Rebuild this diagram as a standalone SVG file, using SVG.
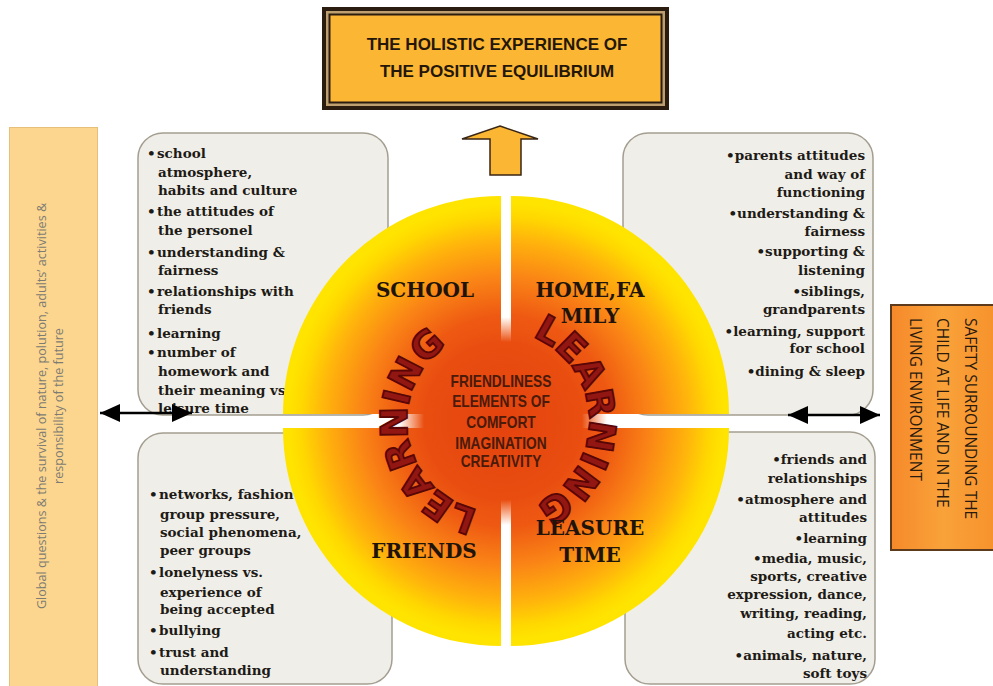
<svg xmlns="http://www.w3.org/2000/svg" width="993" height="686" viewBox="0 0 993 686">
  <style>
    .box { fill: #efeee8; stroke: #a49e90; stroke-width: 1.5; }
    .item { font-family: "DejaVu Serif", "Liberation Serif", serif; font-weight: bold; font-size: 13.5px; fill: #1e1a16; }
    .right { text-anchor: end; }
    .quad-label { font-family: "DejaVu Serif", "Liberation Serif", serif; font-weight: bold; font-size: 20px; fill: #1e140c; text-anchor: middle; }
    .core { font-family: "Liberation Sans", Arial, sans-serif; font-weight: bold; font-size: 16px; fill: #4a1a0a; text-anchor: middle; }
    .ring { font-family: "DejaVu Sans", "Liberation Sans", sans-serif; font-weight: bold; font-size: 37px; fill: #921612; stroke: #5a0606; stroke-width: 1.8px; letter-spacing: 0px; }
    .title { font-family: "Liberation Sans", Arial, sans-serif; font-weight: bold; font-size: 17px; fill: #241608; text-anchor: middle; }
    .side { font-family: "Open Sans", "Noto Sans", sans-serif; font-size: 12.6px; fill: #7c7b74; text-anchor: middle; }
    .safety { font-family: "Open Sans", "Noto Sans", sans-serif; font-size: 15.5px; fill: #2a1a0e; }
    .link { stroke: #000; stroke-width: 2.5; fill: none; }
  </style>
  <defs>
    <radialGradient id="sun" gradientUnits="userSpaceOnUse" cx="506" cy="421" r="218">
      <stop offset="0" stop-color="#e4400e"/>
      <stop offset="0.48" stop-color="#ee5812"/>
      <stop offset="0.66" stop-color="#fa8416"/>
      <stop offset="0.83" stop-color="#ffb30c"/>
      <stop offset="0.94" stop-color="#ffd800"/>
      <stop offset="1" stop-color="#ffe400"/>
    </radialGradient>
    <radialGradient id="glow" gradientUnits="userSpaceOnUse" cx="503" cy="421" r="104">
      <stop offset="0" stop-color="#e4420e"/>
      <stop offset="0.76" stop-color="#e94e10"/>
      <stop offset="1" stop-color="#ef5a14" stop-opacity="0"/>
    </radialGradient>
    <linearGradient id="safetyFill" x1="0" y1="0" x2="1" y2="0">
      <stop offset="0" stop-color="#f6892a"/>
      <stop offset="0.5" stop-color="#f9a23a"/>
      <stop offset="1" stop-color="#f7922c"/>
    </linearGradient>
    <marker id="head" viewBox="0 0 20 18" refX="20" refY="9" markerWidth="20" markerHeight="18" markerUnits="userSpaceOnUse" orient="auto-start-reverse">
      <path d="M0,0 L20,9 L0,18 z" fill="#000"/>
    </marker>
    <!-- ring paths for the curved LEARNING words -->
    <path id="arcLeft" d="M498,512 A91,91 0 0 1 498,330"/>
    <path id="arcRight" d="M498,330 A91,91 0 0 1 498,512"/>
  </defs>

  <rect width="993" height="686" fill="#ffffff"/>

  <!-- outer context: global questions -->
  <g id="global">
    <rect x="9.5" y="127.5" width="88" height="560" fill="#fcd68e" stroke="#e6bf78" stroke-width="1"/>
    <text class="side" transform="translate(46,406) rotate(-90)">Global questions &amp; the survival of nature, polution, adults’ activities &amp;</text>
    <text class="side" transform="translate(63,406) rotate(-90)">responsibility of the future</text>
  </g>

  <!-- outer context: safety -->
  <g id="safety">
    <rect x="891" y="305" width="104" height="245" fill="url(#safetyFill)" stroke="#5e3a1c" stroke-width="2"/>
    <text class="safety" transform="translate(965,318) rotate(90)">SAFETY  SURROUNDING THE</text>
    <text class="safety" transform="translate(937,318) rotate(90)">CHILD AT LIFE AND IN THE</text>
    <text class="safety" transform="translate(910,318) rotate(90)">LIVING ENVIRONMENT</text>
  </g>

  <!-- detail panels -->
  <g id="school-details">
    <rect class="box" x="138" y="133" width="250" height="282" rx="25"/>
    <g class="item">
      <text x="147" y="158">•</text><text x="157" y="158">school</text>
      <text x="158" y="177">atmosphere,</text>
      <text x="158" y="195">habits and culture</text>
      <text x="147" y="216">•</text><text x="157" y="216">the attitudes of</text>
      <text x="158" y="235">the personel</text>
      <text x="147" y="257">•</text><text x="157" y="257">understanding &amp;</text>
      <text x="158" y="275">fairness</text>
      <text x="147" y="296">•</text><text x="157" y="296">relationships with</text>
      <text x="158" y="314">friends</text>
      <text x="147" y="338">•</text><text x="157" y="338">learning</text>
      <text x="147" y="357">•</text><text x="157" y="357">number of</text>
      <text x="158" y="376">homework and</text>
      <text x="158" y="395">their meaning vs</text>
      <text x="158" y="413">leisure time</text>
    </g>
  </g>

  <g id="friends-details">
    <rect class="box" x="138" y="433" width="254" height="251" rx="25"/>
    <g class="item">
      <text x="149" y="499">•</text><text x="159" y="499">networks, fashion</text>
      <text x="160" y="519">group pressure,</text>
      <text x="160" y="537">social phenomena,</text>
      <text x="160" y="555">peer groups</text>
      <text x="149" y="577">•</text><text x="159" y="577">lonelyness vs.</text>
      <text x="160" y="597">experience of</text>
      <text x="160" y="614">being accepted</text>
      <text x="149" y="635">•</text><text x="159" y="635">bullying</text>
      <text x="149" y="657">•</text><text x="159" y="657">trust and</text>
      <text x="160" y="675">understanding</text>
    </g>
  </g>

  <g id="home-details">
    <rect class="box" x="623" y="133" width="250" height="282" rx="25"/>
    <g class="item right">
      <text x="865" y="160">•parents attitudes</text>
      <text x="865" y="179">and way of</text>
      <text x="865" y="197">functioning</text>
      <text x="865" y="218">•understanding &amp;</text>
      <text x="865" y="236">fairness</text>
      <text x="865" y="256">•supporting &amp;</text>
      <text x="865" y="275">listening</text>
      <text x="865" y="296">•siblings,</text>
      <text x="865" y="314">grandparents</text>
      <text x="865" y="336">•learning, support</text>
      <text x="865" y="353">for school</text>
      <text x="865" y="376">•dining &amp; sleep</text>
    </g>
  </g>

  <g id="leisure-details">
    <rect class="box" x="625" y="432" width="250" height="252" rx="25"/>
    <g class="item right">
      <text x="867" y="464">•friends and</text>
      <text x="867" y="483">relationships</text>
      <text x="867" y="504">•atmosphere and</text>
      <text x="867" y="522">attitudes</text>
      <text x="867" y="543">•learning</text>
      <text x="867" y="563">•media, music,</text>
      <text x="867" y="581">sports, creative</text>
      <text x="867" y="599">expression, dance,</text>
      <text x="867" y="618">writing, reading,</text>
      <text x="867" y="638">acting etc.</text>
      <text x="867" y="660">•animals, nature,</text>
      <text x="867" y="678">soft toys</text>
    </g>
  </g>

  <!-- the four quarters of the central disc -->
  <g id="disc">
    <path id="q-school" d="M501,414 L283,414 A218,218 0 0 1 501,196 Z" fill="url(#sun)"/>
    <path id="q-home" d="M511,414 L511,196 A218,218 0 0 1 729,414 Z" fill="url(#sun)"/>
    <path id="q-friends" d="M501,428 L501,646 A218,218 0 0 1 283,428 Z" fill="url(#sun)"/>
    <path id="q-leisure" d="M511,428 L729,428 A218,218 0 0 1 511,646 Z" fill="url(#sun)"/>
    <circle cx="503" cy="421" r="104" fill="url(#glow)"/>
  </g>

  <g id="learning-ring">
    <text class="ring"><textPath href="#arcLeft" startOffset="126" text-anchor="middle">LEARNING</textPath></text>
    <text class="ring"><textPath href="#arcRight" startOffset="141" text-anchor="middle">LEARNING</textPath></text>
  </g>

  <g id="labels">
    <text class="quad-label" x="425" y="297">SCHOOL</text>
    <text class="quad-label" x="590" y="297">HOME,FA</text>
    <text class="quad-label" x="590" y="323">MILY</text>
    <text class="quad-label" x="424" y="558">FRIENDS</text>
    <text class="quad-label" x="590" y="535">LEASURE</text>
    <text class="quad-label" x="590" y="562">TIME</text>
  </g>

  <g id="core" transform="translate(501,0) scale(0.86,1)">
    <text class="core" x="0" y="387">FRIENDLINESS</text>
    <text class="core" x="0" y="407">ELEMENTS OF</text>
    <text class="core" x="0" y="428">COMFORT</text>
    <text class="core" x="0" y="449">IMAGINATION</text>
    <text class="core" x="0" y="467">CREATIVITY</text>
  </g>

  <!-- headline box with triple frame -->
  <g id="headline">
    <rect x="322" y="7" width="347" height="103" fill="#2b1c10"/>
    <rect x="326" y="11" width="339" height="95" fill="#bea070"/>
    <rect x="328.5" y="13.5" width="334" height="90" fill="#2b1c10"/>
    <rect x="330.5" y="15.5" width="330" height="86" fill="#fbb634"/>
    <text class="title" x="497" y="50">THE HOLISTIC EXPERIENCE OF</text>
    <text class="title" x="497" y="77">THE POSITIVE EQUILIBRIUM</text>
  </g>

  <g id="connectors">
    <polygon points="500,126 538,139 521,139 521,175 490,175 490,139 462,139" fill="#fbb634" stroke="#3a2614" stroke-width="1.5" stroke-linejoin="miter"/>
    <line class="link" x1="100" y1="413" x2="192" y2="413" marker-start="url(#head)" marker-end="url(#head)"/>
    <line class="link" x1="788" y1="415" x2="880" y2="415" marker-start="url(#head)" marker-end="url(#head)"/>
  </g>
</svg>
